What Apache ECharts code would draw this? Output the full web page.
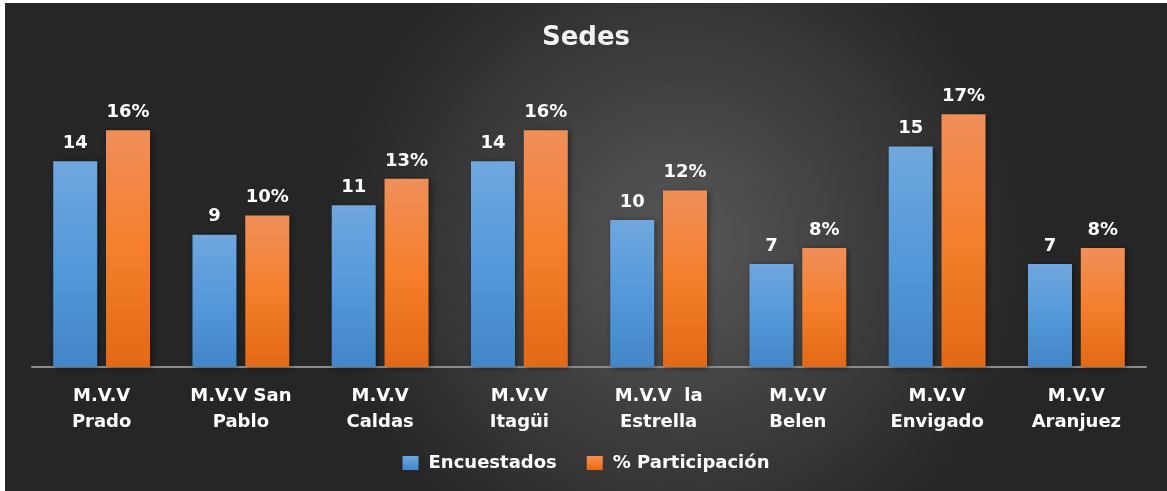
<!DOCTYPE html>
<html lang="es">

<head>
    <meta charset="UTF-8">
    <title>Sedes</title>
    <script src="https://cdn.jsdelivr.net/npm/echarts@6/dist/echarts.min.js"></script>
    <style>
        body {
            margin: 0;
            background: #fff;
        }

        #chart {
            position: absolute;
            left: 5px;
            top: 3px;
            width: 1162px;
            height: 488px;
        }
    </style>
</head>

<body>
    <div id="chart"></div>
</body>
<script>
    // datos
    var sedes = ['M.V.V\nPrado', 'M.V.V San\nPablo', 'M.V.V\nCaldas', 'M.V.V\nItagüi', 'M.V.V  la\nEstrella', 'M.V.V\nBelen', 'M.V.V\nEnvigado', 'M.V.V\nAranjuez'];
    var encuestados = [14, 9, 11, 14, 10, 7, 15, 7];
    var participacion = [16.1, 10.3, 12.8, 16.1, 12.0, 8.1, 17.2, 8.1];

    var font = 'DejaVu Sans';

    var my = echarts.init(document.getElementById('chart'));

    var labelStyle = {
        show: true,
        position: 'top',
        distance: 9,
        color: '#fff',
        fontFamily: font,
        fontWeight: 'bold',
        fontSize: 18
    };

    var option = {
        backgroundColor: {
            type: 'radial', x: 0.58, y: 0.5, r: 0.72,
            colorStops: [
                { offset: 0, color: '#585858' },
                { offset: 1, color: '#262626' }
            ]
        },
        title: {
            text: 'Sedes',
            left: 'center',
            top: 17,
            textStyle: {
                color: '#f2f2f2',
                fontFamily: font,
                fontWeight: 'bold',
                fontSize: 26
            }
        },
        legend: {
            bottom: 14,
            left: 'center',
            itemWidth: 16,
            itemHeight: 14,
            itemGap: 30,
            icon: 'rect',
            itemStyle: {
                shadowBlur: 0,
                shadowOffsetX: 0,
                shadowOffsetY: 0,
                borderWidth: 0
            },
            textStyle: {
                color: '#fff',
                fontFamily: font,
                fontWeight: 'bold',
                fontSize: 18,
                padding: [0, 0, 0, 5]
            },
            data: ['Encuestados', '% Participación']
        },
        grid: {
            left: 27,
            right: 21,
            top: 70,
            bottom: 124
        },
        xAxis: {
            type: 'category',
            data: sedes,
            axisTick: { show: false },
            axisLine: {
                lineStyle: { color: '#8c8c8c', width: 2 }
            },
            axisLabel: {
                color: '#fff',
                fontFamily: font,
                fontWeight: 'bold',
                fontSize: 18,
                lineHeight: 26,
                margin: 16,
                interval: 0
            }
        },
        yAxis: {
            type: 'value',
            min: 0,
            max: 20,
            show: false,
            splitLine: { show: false }
        },
        series: [
            {
                name: 'Encuestados',
                type: 'bar',
                data: encuestados,
                barWidth: 44,
                barGap: '20%',
                itemStyle: {
                    color: {
                        type: 'linear', x: 0, y: 0, x2: 0, y2: 1,
                        colorStops: [
                            { offset: 0, color: '#70a7de' },
                            { offset: 0.5, color: '#5499da' },
                            { offset: 1, color: '#4286c8' }
                        ]
                    },
                    shadowBlur: 6,
                    shadowColor: 'rgba(0,0,0,0.45)',
                    shadowOffsetX: 2,
                    shadowOffsetY: 1
                },
                label: Object.assign({}, labelStyle, {
                    formatter: '{c}'
                })
            },
            {
                name: '% Participación',
                type: 'bar',
                data: participacion,
                barWidth: 44,
                itemStyle: {
                    color: {
                        type: 'linear', x: 0, y: 0, x2: 0, y2: 1,
                        colorStops: [
                            { offset: 0, color: '#f08f5a' },
                            { offset: 0.5, color: '#f57f2c' },
                            { offset: 1, color: '#e26916' }
                        ]
                    },
                    shadowBlur: 6,
                    shadowColor: 'rgba(0,0,0,0.45)',
                    shadowOffsetX: 2,
                    shadowOffsetY: 1
                },
                label: Object.assign({}, labelStyle, {
                    formatter: function (p) {
                        return Math.round(p.value) + '%';
                    }
                })
            }
        ]
    };

    my.setOption(option);
</script>

</html>
